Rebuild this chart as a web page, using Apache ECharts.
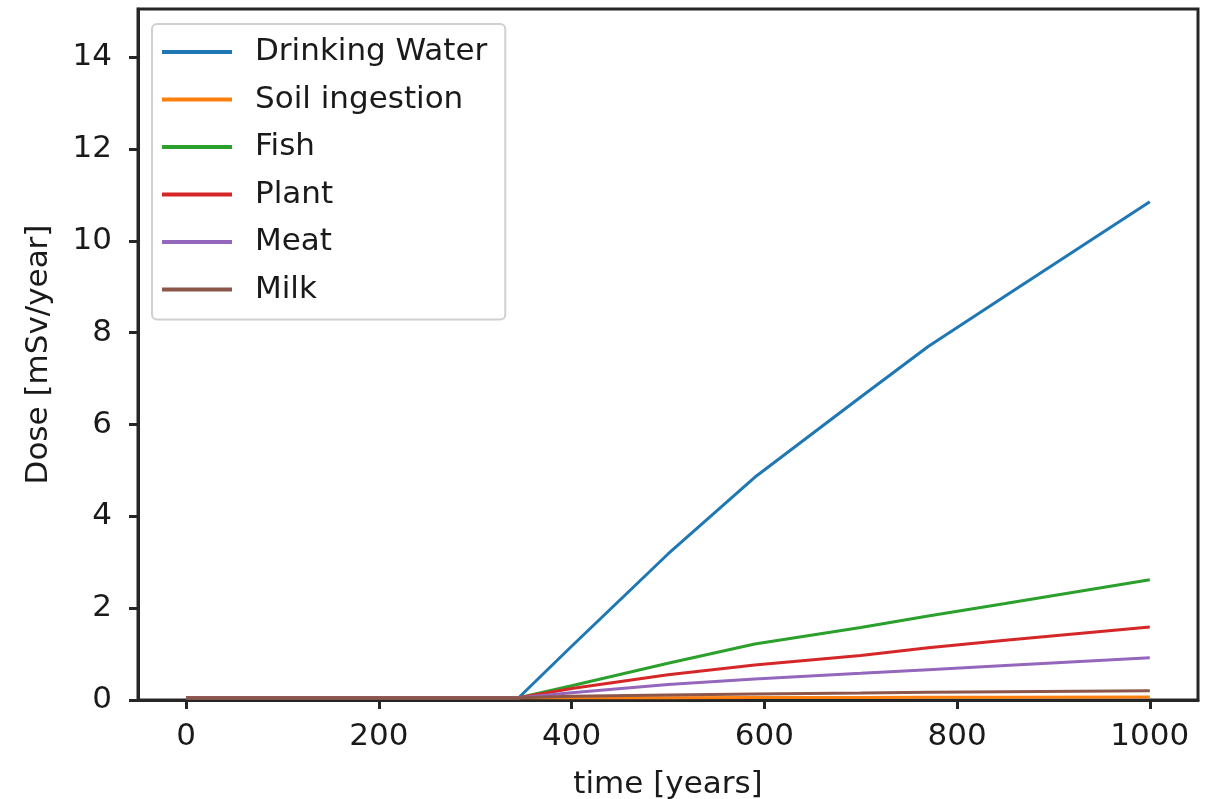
<!DOCTYPE html>
<html>
<head>
<meta charset="utf-8">
<script src="https://cdn.jsdelivr.net/npm/echarts@6/dist/echarts.min.js"></script>
<style>
html,body{margin:0;padding:0;background:#fff;}
#chart{width:1210px;height:799px;}
</style>
</head>
<body>
<div id="chart"></div>
<script>
var times = [0, 100, 200, 300, 345, 400, 500, 590, 700, 770, 850, 1000];
var drinkingWater = [0.05, 0.05, 0.05, 0.05, 0.05, 1.17, 3.18, 4.85, 6.6, 7.7, 8.8, 10.85];
var soilIngestion = [0.05, 0.05, 0.05, 0.05, 0.05, 0.05, 0.05, 0.055, 0.055, 0.06, 0.06, 0.065];
var fish = [0.05, 0.05, 0.05, 0.05, 0.05, 0.31, 0.8, 1.22, 1.58, 1.83, 2.1, 2.62];
var plant = [0.05, 0.05, 0.05, 0.05, 0.05, 0.25, 0.55, 0.76, 0.97, 1.14, 1.3, 1.59];
var meat = [0.05, 0.05, 0.05, 0.05, 0.05, 0.16, 0.34, 0.46, 0.58, 0.66, 0.75, 0.92];
var milk = [0.05, 0.05, 0.05, 0.05, 0.05, 0.08, 0.11, 0.13, 0.15, 0.17, 0.18, 0.2];
var seriesNames = ['Drinking Water', 'Soil ingestion', 'Fish', 'Plant', 'Meat', 'Milk'];
var seriesColors = ['#1f77b4', '#ff7f0e', '#2ca02c', '#d62728', '#9467bd', '#8c564b'];
var xTicks = [0, 200, 400, 600, 800, 1000];
var yTicks = [0, 2, 4, 6, 8, 10, 12, 14];

var allValues = [drinkingWater, soilIngestion, fish, plant, meat, milk];
var FONT = 'DejaVu Sans';
var AX = '#262626';
var FS = 31;

function pairs(vals) {
  return times.map(function (t, i) { return [t, vals[i]]; });
}

var series = seriesNames.map(function (name, i) {
  return {
    name: name,
    type: 'line',
    data: pairs(allValues[i]),
    showSymbol: false,
    symbol: 'none',
    animation: false,
    lineStyle: { width: 3, color: seriesColors[i] },
    itemStyle: { color: seriesColors[i] },
    z: 2 + i
  };
});

var chart = echarts.init(document.getElementById('chart'), null, { renderer: 'canvas' });
chart.setOption({
  backgroundColor: '#fff',
  animation: false,
  grid: {
    left: 138, right: 12, top: 9, bottom: 99,
    containLabel: false,
    outerBoundsMode: 'none',
    show: true, borderColor: AX, borderWidth: 3, backgroundColor: 'transparent'
  },
  legend: {
    orient: 'vertical',
    left: 152, top: 24,
    data: seriesNames,
    icon: 'rect',
    itemWidth: 70, itemHeight: 4,
    itemGap: 15.5,
    padding: [12, 18, 14, 10],
    borderColor: '#d0d0d0', borderWidth: 2, borderRadius: 5,
    backgroundColor: '#fff',
    textStyle: { fontFamily: FONT, fontSize: FS, color: '#1a1a1a', lineHeight: 32, padding: [0, 0, 0, 18] }
  },
  xAxis: {
    type: 'value',
    min: -50, max: 1050,
    name: 'time [years]',
    nameLocation: 'middle',
    nameGap: 69,
    nameTextStyle: { fontFamily: FONT, fontSize: FS, color: '#1a1a1a' },
    splitLine: { show: false },
    axisLine: { show: true, onZero: false, lineStyle: { color: AX, width: 3 } },
    axisTick: { show: true, inside: false, length: 9, customValues: xTicks, lineStyle: { color: AX, width: 3 } },
    axisLabel: { fontFamily: FONT, fontSize: FS, color: '#1a1a1a', margin: 21, customValues: xTicks,
      formatter: function (v) { return String(v); } }
  },
  yAxis: {
    type: 'value',
    min: 0, max: 15.05,
    name: 'Dose [mSv/year]',
    nameLocation: 'middle',
    nameGap: 84,
    nameRotate: 90,
    nameTextStyle: { fontFamily: FONT, fontSize: FS, color: '#1a1a1a' },
    splitLine: { show: false },
    axisLine: { show: true, onZero: false, lineStyle: { color: AX, width: 3 } },
    axisTick: { show: true, inside: false, length: 9, customValues: yTicks, lineStyle: { color: AX, width: 3 } },
    axisLabel: { fontFamily: FONT, fontSize: FS, color: '#1a1a1a', margin: 26, customValues: yTicks,
      formatter: function (v) { return String(v); } }
  },
  series: series
});
</script>
</body>
</html>
